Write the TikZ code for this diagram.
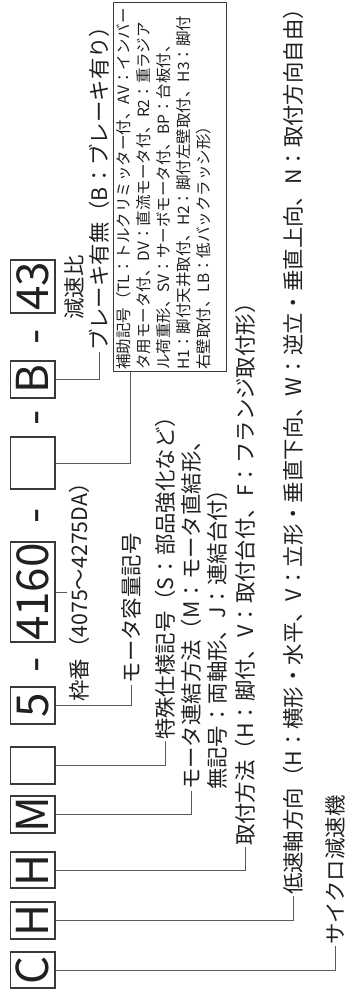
\documentclass[tikz,border=0pt]{standalone}
\usepackage{fontspec}
\setmainfont{Noto Sans CJK JP}
\usepackage{graphicx}
\definecolor{ink}{HTML}{231F20}
\definecolor{wire}{HTML}{5A5A5A}
\definecolor{boxc}{HTML}{3A3A3A}
\newcommand\cyBoxFont{\fontsize{44}{44}\selectfont}
\newcommand\cyLblFont{\fontsize{21.4}{25}\selectfont}
\newcommand\cyHojoFont{\fontsize{15.5}{20}\selectfont}
\begin{document}
\begin{tikzpicture}[x=1pt,y=-1pt,
  codebox/.style={draw=boxc, line width=1.1pt, inner sep=0pt, minimum width=44.3pt, text=ink, font=\cyBoxFont},
  dashsym/.style={rotate=90, anchor=base, inner sep=0pt, text=ink, font=\cyBoxFont},
  lbl/.style={rotate=90, anchor=west, inner sep=1pt, text=ink, font=\cyLblFont},
  conn/.style={draw=wire, line width=0.9pt}]
\useasboundingbox (0,0) rectangle (357,993);
% code boxes
\node[codebox, minimum height=36pt] (C) at (32.85,970) {\rotatebox{90}{C}};
\node[codebox, minimum height=37pt] (Ha) at (32.85,920.5) {\rotatebox{90}{H}};
\node[codebox, minimum height=36pt] (Hb) at (32.85,870) {\rotatebox{90}{H}};
\node[codebox, minimum height=37pt] (M) at (32.85,814.5) {\rotatebox{90}{M}};
\node[codebox, minimum height=37pt] (E1) at (32.85,765.5) {};
\node[codebox, minimum height=37pt] (F5) at (32.85,705.5) {\rotatebox{90}{5}};
\node[codebox, minimum height=100pt] (F4160) at (32.85,592) {\rotatebox{90}{4160}};
\node[codebox, minimum height=52pt] (E2) at (32.85,463) {};
\node[codebox, minimum height=37pt] (B) at (32.85,379.5) {\rotatebox{90}{B}};
\node[codebox, minimum height=53pt] (R43) at (32.85,286.5) {\rotatebox{90}{43}};
% dashes
\node[dashsym] (d1) at (49,664.5) {-};
\node[dashsym] (d2) at (49,515.5) {-};
\node[dashsym] (d3) at (49,417.5) {-};
\node[dashsym] (d4) at (49,337) {-};
% labels
\node[lbl] (tC) at (335,946) {サイクロ減速機};
\node[lbl] (tHa) at (293.3,896) {低速軸方向（H：横形・水平、V：立形・垂直下向、W：逆立・垂直上向、N：取付方向自由）};
\node[lbl] (tHb) at (245,847) {取付方法（H：脚付、V：取付台付、F：フランジ取付形）};
\node[lbl] (tM) at (191.7,791) {モータ連結方法（M：モータ直結形、};
\node[lbl] (tM2) at (217,791) {無記号：両軸形、J：連結台付）};
\node[lbl] (tE1) at (165,741) {特殊仕様記号（S：部品強化など）};
\node[lbl] (t5) at (131.7,684.5) {モータ容量記号};
\node[lbl, anchor=north, inner sep=2pt] (t4160) at (67,587) {枠番（4075～4275DA）};
\node[lbl, anchor=center] (t43) at (74,287.5) {減速比};
\node[lbl] (tB) at (99.3,352) {ブレーキ有無（B：ブレーキ有り）};
% auxiliary code box
\node[draw=boxc, line width=1pt, minimum width=113pt, minimum height=369.3pt, inner sep=0pt, anchor=south west] (hojo) at (112.7,372) {};
\node[rotate=90, anchor=north west, align=left, inner sep=0pt, text=ink, font=\cyHojoFont] (hojot) at (116,370)
 {補助記号（TL：トルクリミッター付、AV：インバー\\
  タ用モータ付、DV：直流モータ付、R2：重ラジア\\
  ル荷重形、SV：サーボモータ付、BP：台板付、\\
  H1：脚付天井取付、H2：脚付左壁取付、H3：脚付\\
  右壁取付、LB：低バックラッシ形）};
% connectors
\draw[conn] (C.east) -| (tC.west);
\draw[conn] (Ha.east) -| (tHa.west);
\draw[conn] (Hb.east) -| (tHb.west);
\draw[conn] (M.east) -| (tM.west);
\draw[conn] (E1.east) -| (tE1.west);
\draw[conn] (F5.east) -| (t5.west);
\draw[conn] (F4160.east) -- (F4160.east -| t4160.north);
\draw[conn] (E2.east) -| ([xshift=18pt]hojo.south west);
\draw[conn] (B.east) -| (tB.west);
\end{tikzpicture}
\end{document}
